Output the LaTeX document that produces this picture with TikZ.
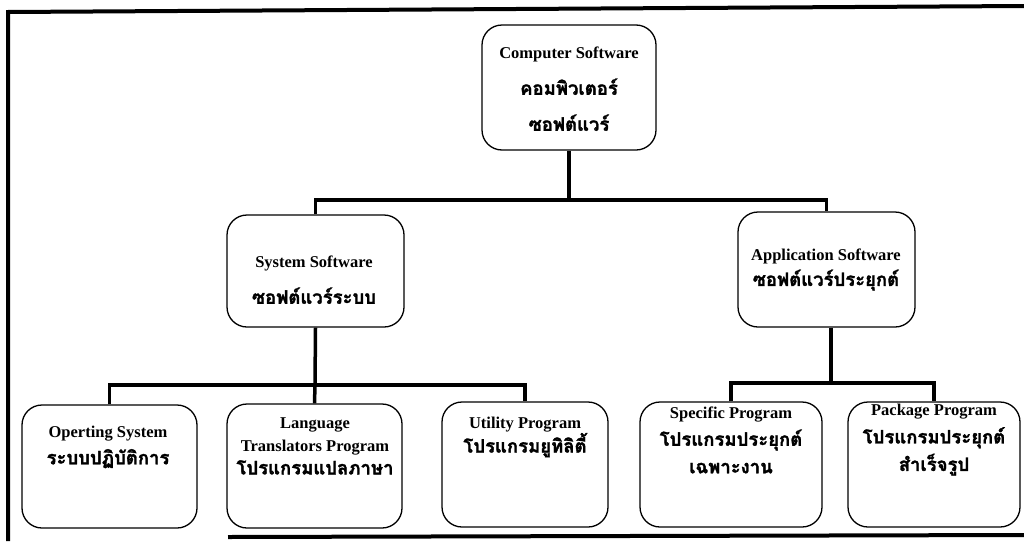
\documentclass[tikz,border=0pt]{standalone}
\usepackage{fontspec}
\setmainfont{Liberation Serif}
\newfontfamily\thaifont[Script=Thai,FakeBold=1.6]{Loma}
\newcommand\thaitxt[1]{{\thaifont\fontsize{18.5}{18.5}\selectfont #1}}
\begin{document}
\begin{tikzpicture}[x=1pt,y=-1pt,
  box/.style={draw, line width=1.3pt, rounded corners=20pt, inner sep=0pt},
  txt/.style={align=center, font=\bfseries\fontsize{16.5}{#1}\selectfont, inner sep=0pt},
  conn/.style={line width=3.5pt},
  frame/.style={line width=4pt}]
\useasboundingbox (0,0) rectangle (1024,541);
% frame
\draw[frame] (1024,6) -- (8,12) -- (8,541);
\draw[frame] (228,537) -- (1024,535);
% boxes
\node[box, minimum width=174pt, minimum height=125pt] (comp) at (569,87.5) {};
\node[box, minimum width=177pt, minimum height=112pt] (sys) at (315.5,271) {};
\node[box, minimum width=177pt, minimum height=115pt] (app) at (826.5,269.5) {};
\node[box, minimum width=175pt, minimum height=123pt] (os) at (109.5,466.5) {};
\node[box, minimum width=175pt, minimum height=124pt] (lang) at (314.5,466) {};
\node[box, minimum width=166pt, minimum height=125pt] (util) at (525,464.5) {};
\node[box, minimum width=182pt, minimum height=125pt] (spec) at (731,464.5) {};
\node[box, minimum width=172pt, minimum height=125pt] (pack) at (934,464.5) {};
% texts
\node[txt=36] (compt) at (569,89) {Computer Software\\ \thaitxt{คอมพิวเตอร์}\\ \thaitxt{ซอฟต์แวร์}};
\node[txt=36] (syst) at (314,280) {System Software\\ \thaitxt{ซอฟต์แวร์ระบบ}};
\node[txt=25] (appt) at (826,270) {Application Software\\ \thaitxt{ซอฟต์แวร์ประยุกต์}};
\node[txt=27] (ost) at (108,447) {Operting System\\ \thaitxt{ระบบปฏิบัติการ}};
\node[txt=23] (langt) at (315,446) {Language\\ Translators Program\\ \thaitxt{โปรแกรมแปลภาษา}};
\node[txt=21] (utilt) at (525,437) {Utility Program\\ \thaitxt{โปรแกรมยูทิลิตี้}};
\node[txt=27.5] (spect) at (731,440) {Specific Program\\ \thaitxt{โปรแกรมประยุกต์}\\ \thaitxt{เฉพาะงาน}};
\node[txt=27.5] (packt) at (934,440) {Package Program\\ \thaitxt{โปรแกรมประยุกต์}\\ \thaitxt{สำเร็จรูป}};
% connectors
\coordinate (j1) at (569,200);
\coordinate (j2) at (315,385);
\coordinate (j3) at (831,383);
\draw[conn] (comp.south) -- (j1);
\draw[conn] (sys.north) |- (j1) -| (app.north);
\draw[conn] (sys.south) -- (j2);
\draw[conn] (os.north) |- (j2) -| (util.north);
\draw[conn] (lang.north) -- (j2);
\draw[conn] (app.south -| j3) -- (j3);
\draw[conn] (spec.north) |- (j3) -| (pack.north);
\end{tikzpicture}
\end{document}
